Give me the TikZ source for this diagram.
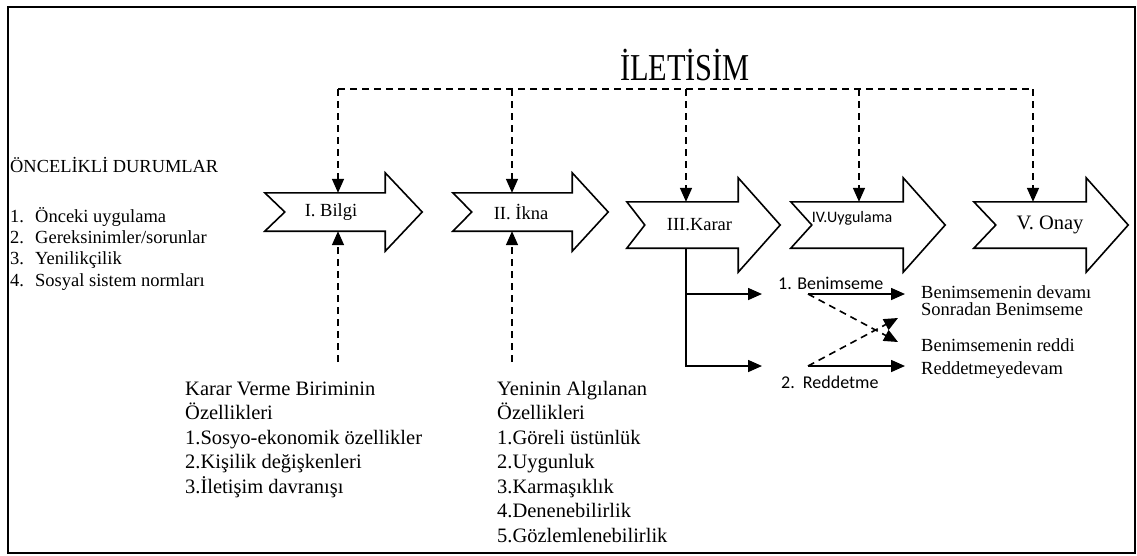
\documentclass[tikz,border=0pt]{standalone}
\usepackage{fontspec}
\setmainfont{Liberation Serif}
\newfontfamily\calibri{Carlito}
\usetikzlibrary{arrows.meta,calc}
\newcommand{\stageoutline}[4]{% node, notch, head overhang, head length
  \draw[stageline] (#1.north west) -- (#1.north east) -- ++(0,-#3)
    -- ($(#1.east)+(#4,0)$) -- ($(#1.south east)+(0,#3)$)
    -- (#1.south east) -- (#1.south west) -- ($(#1.west)+(#2,0)$) -- cycle;}
\tikzset{
  stage/.style={inner sep=0pt,minimum width=120pt,minimum height=38pt,
    font=\fontsize{18.5}{21}\selectfont},
  stageline/.style={draw=black,line width=1.6pt,line join=miter},
  comm/.style={draw=black,line width=1.6pt,dash pattern=on 7pt off 5pt},
  commarrow/.style={comm,-{Triangle[length=14pt,width=12pt]}},
  flow/.style={draw=black,line width=1.6pt,-{Triangle[length=14pt,width=12pt]}},
  plaintext/.style={inner sep=0pt,anchor=base west,align=left,
    font=\fontsize{18.5}{21.3}\selectfont},
  caltext/.style={inner sep=0pt,anchor=base west,
    font=\calibri\fontsize{18}{21}\selectfont}
}
\begin{document}
\begin{tikzpicture}[x=1pt,y=-1pt]
  \useasboundingbox (0,0) rectangle (1137,555);
  \draw[line width=1.6pt] (8,7) rectangle (1135,553);

  % stages
  \node[stage] (bilgi) at (325,212) {\hspace*{12pt}I. Bilgi};
  \node[stage,minimum width=119pt] (ikna) at (512.5,212) {\hspace*{17pt}II. İkna};
  \node[stage,minimum width=111pt,minimum height=46pt] (karar) at (682.5,225) {\hspace*{34pt}III.Karar};
  \node[stage,minimum width=112pt,minimum height=46pt,font=\calibri\fontsize{16}{19}\selectfont]
    (uygulama) at (847,225) {\hspace*{10pt}\raisebox{7pt}[\height][\depth]{IV.Uygulama}};
  \node[stage,minimum width=112pt,minimum height=46pt,font=\fontsize{20.5}{24}\selectfont]
    (onay) at (1030,225) {\hspace*{40pt}V. Onay};
  \stageoutline{bilgi}{20}{20}{37}
  \stageoutline{ikna}{19}{20}{36}
  \stageoutline{karar}{18}{24}{42}
  \stageoutline{uygulama}{21}{24}{42}
  \stageoutline{onay}{22}{24}{42}

  % communication
  \node[font=\fontsize{38}{40}\selectfont] (iletisim) at (685,65) {\scalebox{0.8}[1]{İLETİSİM}};
  \coordinate (t1) at (338,89);
  \coordinate (t2) at (512,89);
  \coordinate (t3) at (686,89);
  \coordinate (t4) at (859,89);
  \coordinate (t5) at (1033,89);
  \draw[comm] (t1) -- (t5);
  \draw[commarrow] (t1) -- (t1 |- bilgi.north);
  \draw[commarrow] (t2) -- (t2 |- ikna.north);
  \draw[commarrow] (t3) -- (t3 |- karar.north);
  \draw[commarrow] (t4) -- (t4 |- uygulama.north);
  \draw[commarrow] (t5) -- (t5 |- onay.north);

  % prior conditions (base = last line)
  \node[plaintext,font=\fontsize{18.4}{21}\selectfont] (prior) at (10,172) {ÖNCELİKLİ DURUMLAR};
  \node[plaintext] (priorlist) at (10,286) {\makebox[25pt][l]{1.}Önceki uygulama\\
    \makebox[25pt][l]{2.}Gereksinimler/sorunlar\\
    \makebox[25pt][l]{3.}Yenilikçilik\\
    \makebox[25pt][l]{4.}Sosyal sistem normları};

  % characteristics
  \node[plaintext,font=\fontsize{20.5}{24.5}\selectfont] (birim) at (185,493)
    {Karar Verme Biriminin\\Özellikleri\\1.Sosyo-ekonomik özellikler\\2.Kişilik değişkenleri\\3.İletişim davranışı};
  \node[plaintext,font=\fontsize{20.5}{24.5}\selectfont] (nitelik) at (497,542)
    {Yeninin Algılanan\\Özellikleri\\1.Göreli üstünlük\\2.Uygunluk\\3.Karmaşıklık\\4.Denenebilirlik\\5.Gözlemlenebilirlik};
  \coordinate (b1) at (338,362);
  \coordinate (b2) at (512,362);
  \draw[commarrow] (b1) -- (b1 |- bilgi.south);
  \draw[commarrow] (b2) -- (b2 |- ikna.south);

  % decision outcomes
  \node[caltext] (benim) at (778,289) {1. Benimseme};
  \node[caltext] (redd) at (781,388) {2.\hspace{0.45em}Reddetme};
  \node[plaintext] (devam) at (921,298) {Benimsemenin devamı};
  \node[plaintext] (sonra) at (921,315) {Sonradan Benimseme};
  \node[plaintext] (reddi) at (921,351) {Benimsemenin reddi};
  \node[plaintext] (reddevam) at (921,374) {Reddetmeyedevam};

  \coordinate (kfork) at (686,294);
  \coordinate (kturn) at (686,366);
  \coordinate (accept) at (762,294);
  \coordinate (reject) at (762,366);
  \draw[flow] (kturn |- karar.south) -- (kturn) -- (reject);
  \draw[flow] (kfork) -- (accept);

  \coordinate (a1) at (808,294);
  \coordinate (r1) at (808,366);
  \coordinate (cross1) at (898,342);
  \coordinate (cross2) at (898,318);
  \draw[flow,shorten >=16pt] (a1) -- (a1 -| devam.west);
  \draw[flow,shorten >=16pt] (r1) -- (r1 -| reddevam.west);
  \draw[commarrow] (a1) -- (cross1);
  \draw[commarrow] (r1) -- (cross2);
\end{tikzpicture}
\end{document}
